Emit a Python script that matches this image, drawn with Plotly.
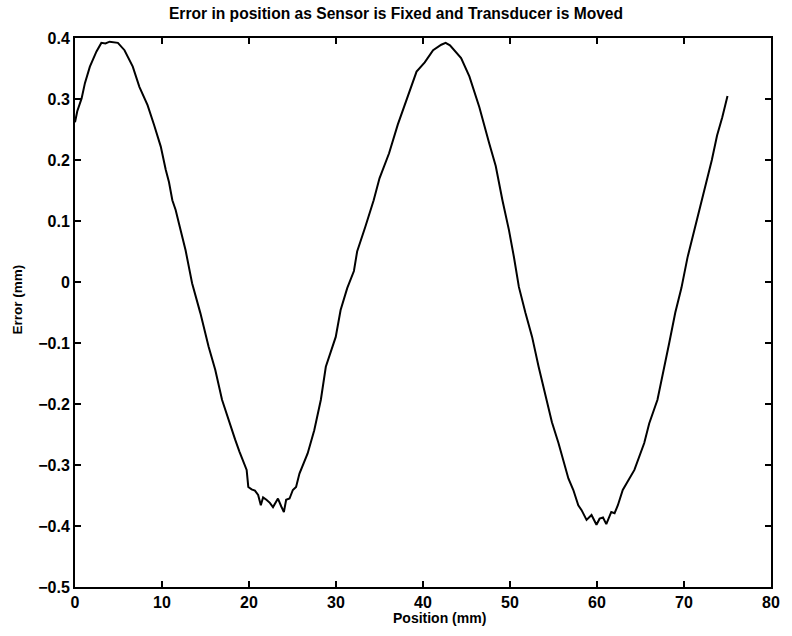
import plotly.graph_objects as go

position_mm = [
    0.0, 0.26, 0.76, 1.14, 1.71, 2.47, 3.03, 3.5, 3.98, 4.45, 4.93, 5.69, 6.64, 7.40, 8.34,
    9.10, 9.86, 10.43, 10.8, 11.19, 11.57, 11.95, 12.71, 13.46, 14.41, 15.36, 16.12,
    16.9, 17.64, 18.4, 18.9, 19.35, 19.73, 19.92, 20.3, 20.68, 21.05, 21.36, 21.62, 22.0,
    22.4, 22.76, 23.05, 23.33, 23.71, 24.01, 24.27, 24.66, 25.04, 25.41, 25.8, 26.74,
    27.5, 28.26, 28.83, 29.4, 29.97, 30.53, 31.29, 32.06, 32.43, 33.38, 34.33, 35.0,
    36.1, 37.1, 38.12, 38.7, 39.26, 40.2, 41.16, 42.1, 42.6, 43.1, 43.62, 44.38, 45.33,
    46.47, 47.6, 48.36, 49.13, 49.88, 50.45, 51.02, 51.78, 52.54, 53.29, 54.1, 54.82,
    55.57, 56.2, 56.71, 57.28, 57.85, 58.23, 58.8, 59.37, 59.94, 60.3, 60.69, 61.07,
    61.64, 62.02, 62.4, 62.96, 63.92, 64.3, 65.43, 66.0, 66.95, 67.6, 68.3, 69.0, 69.7,
    70.4, 71.1, 71.8, 72.5, 73.2, 73.8, 74.4, 75.0,
]
error_mm = [
    0.262, 0.280, 0.301, 0.326, 0.353, 0.378, 0.392, 0.391, 0.394, 0.393, 0.392, 0.380,
    0.353, 0.320, 0.290, 0.257, 0.222, 0.184, 0.164, 0.134, 0.118, 0.096, 0.052, -0.002,
    -0.051, -0.106, -0.144, -0.193, -0.226, -0.258, -0.278, -0.295, -0.308, -0.336, -0.340,
    -0.342, -0.349, -0.366, -0.353, -0.357, -0.362, -0.369, -0.362, -0.355, -0.368,
    -0.377, -0.357, -0.355, -0.341, -0.336, -0.314, -0.281, -0.243, -0.193, -0.139,
    -0.115, -0.090, -0.046, -0.010, 0.018, 0.050, 0.091, 0.134, 0.170, 0.211, 0.258,
    0.298, 0.322, 0.345, 0.360, 0.380, 0.389, 0.392, 0.388, 0.380, 0.367, 0.337, 0.287,
    0.228, 0.190, 0.134, 0.085, 0.041, -0.008, -0.051, -0.090, -0.139, -0.190, -0.230,
    -0.264, -0.297, -0.322, -0.341, -0.366, -0.374, -0.390, -0.382, -0.398, -0.388,
    -0.386, -0.397, -0.377, -0.379, -0.366, -0.341, -0.319, -0.308, -0.264, -0.232,
    -0.193, -0.150, -0.100, -0.050, -0.010, 0.040, 0.080, 0.120, 0.160, 0.200, 0.240,
    0.270, 0.305,
]

x_ticks = [0, 10, 20, 30, 40, 50, 60, 70, 80]
y_ticks = [-0.5, -0.4, -0.3, -0.2, -0.1, 0, 0.1, 0.2, 0.3, 0.4]
y_tick_labels = ["\u22120.5", "\u22120.4", "\u22120.3", "\u22120.2", "\u22120.1", "0",
                 "0.1", "0.2", "0.3", "0.4"]

font_family = "Liberation Sans, Arial, Helvetica, sans-serif"

fig = go.Figure()
fig.add_trace(go.Scatter(
    x=position_mm, y=error_mm, mode="lines",
    line=dict(color="black", width=2), showlegend=False,
))

axis_common = dict(
    showgrid=False, zeroline=False, showline=True, linecolor="black", linewidth=2,
    mirror="ticks", ticks="inside", ticklen=6, tickwidth=1.5, tickcolor="black",
    tickfont=dict(family=font_family, size=16, color="black"),
)

fig.update_layout(
    width=792, height=636,
    margin=dict(l=75, r=14, t=38, b=49),
    paper_bgcolor="white", plot_bgcolor="white",
    title=dict(
        text="<b>Error in position as Sensor is Fixed and Transducer is Moved</b>",
        x=0.5, xanchor="center", y=1 - 14 / 636, yanchor="middle",
        font=dict(family=font_family, size=15.6, color="black"),
    ),
    xaxis=dict(
        range=[0, 80], tickvals=x_ticks, ticktext=[f"<b>{v}</b>" for v in x_ticks],
        **axis_common,
    ),
    yaxis=dict(
        range=[-0.5, 0.4], tickvals=y_ticks, ticktext=[f"<b>{t}</b>" for t in y_tick_labels],
        **axis_common,
    ),
    annotations=[
        dict(text="<b>Position (mm)</b>", xref="paper", yref="paper",
             x=0.524, y=-0.057, xanchor="center", yanchor="middle", showarrow=False,
             font=dict(family=font_family, size=14, color="black")),
        dict(text="<b>Error (mm)</b>", xref="paper", yref="paper", textangle=-90,
             x=-0.083, y=0.524, xanchor="center", yanchor="middle", showarrow=False,
             font=dict(family=font_family, size=13.5, color="black")),
    ],
)

fig.write_html("out.html")
